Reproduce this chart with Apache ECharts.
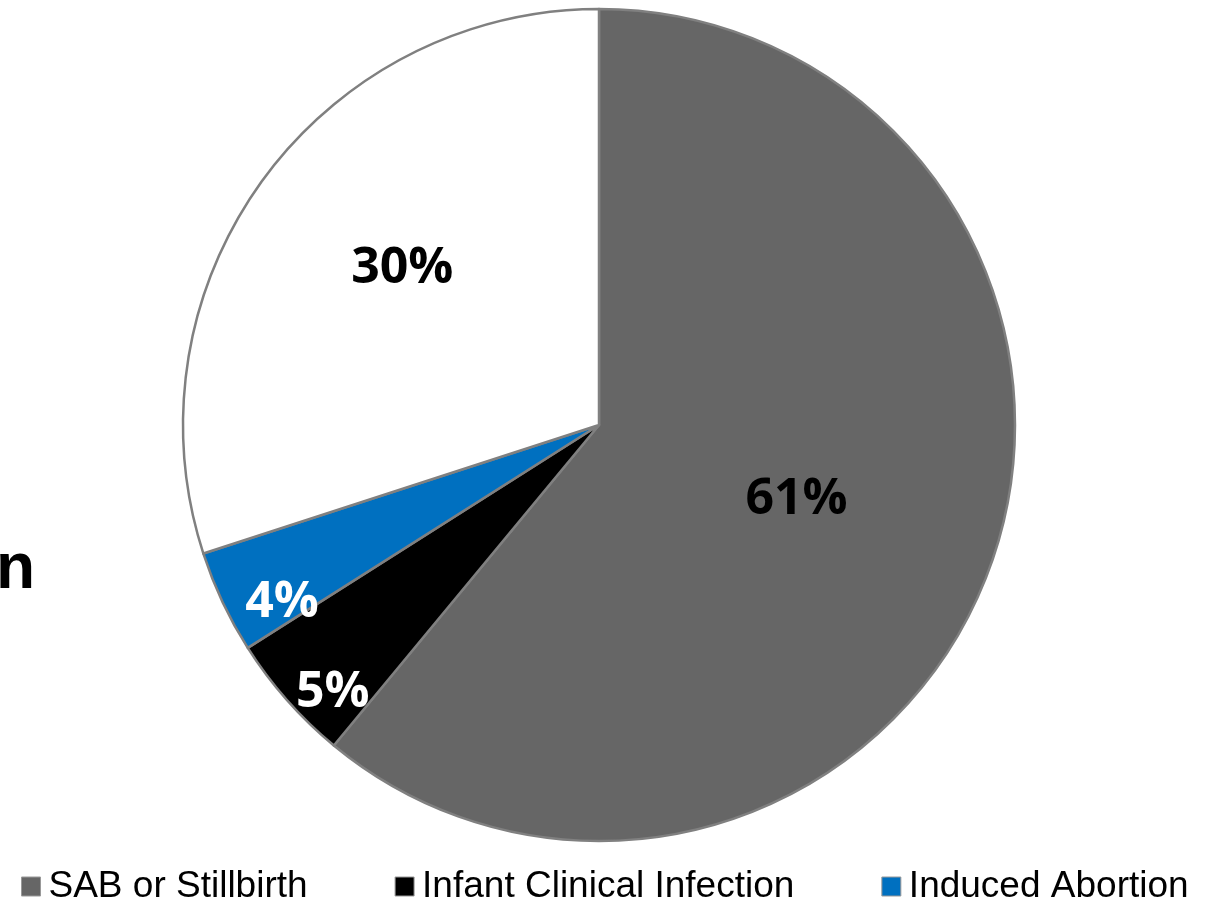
<!DOCTYPE html>
<html>
<head>
<meta charset="utf-8">
<script src="https://cdn.jsdelivr.net/npm/echarts@6/dist/echarts.min.js"></script>
<style>
  html, body { margin: 0; padding: 0; background: #fff; }
  #chart { width: 1208px; height: 898px; }
</style>
</head>
<body>
<div id="chart"></div>
<script>
// slice names and shares (%), clockwise from 12 o'clock
const names = ['SAB or Stillbirth', 'Infant Clinical Infection', 'Induced Abortion', 'Other']
const values = [61, 5, 4, 30]
// only these appear in the legend
const legendNames = ['SAB or Stillbirth', 'Infant Clinical Infection', 'Induced Abortion']

// look
const colors = ['#666666', '#000000', '#0070c0', '#ffffff']
const labelColors = ['#000000', '#ffffff', '#ffffff', '#000000']
// nudge (px) of each label away from its default inside spot
const labelNudge = [[-1, 3], [-108, 128], [-126, 88], [-26, -32]]
const cx = 599, cy = 425

const chart = echarts.init(document.getElementById('chart'))

chart.setOption({
  animation: false,
  graphic: [
    {
      // cut off heading text at the left edge
      type: 'text',
      left: -4,
      top: 538,
      style: { text: 'n', font: 'bold 64px "Liberation Sans", Arial', fill: '#000' }
    }
  ],
  legend: {
    data: legendNames,
    left: 16,
    top: 863,
    itemWidth: 19,
    itemHeight: 19,
    itemGap: 87,
    icon: 'rect',
    itemStyle: { borderColor: '#999', borderWidth: 1 },
    textStyle: { fontFamily: '"Liberation Sans", Arial', fontSize: 37, color: '#000', padding: [0, 0, 0, 3] }
  },
  series: [
    {
      type: 'pie',
      center: [cx, cy],
      radius: 416,
      startAngle: 90,
      clockwise: true,
      data: names.map((n, i) => ({
        name: n,
        value: values[i],
        itemStyle: { color: colors[i] },
        label: { color: labelColors[i] }
      })),
      itemStyle: { borderColor: '#808080', borderWidth: 2.5 },
      label: {
        show: true,
        position: 'inside',
        formatter: p => p.value + '%',
        fontFamily: '"Open Sans", "Noto Sans", sans-serif',
        fontWeight: 'bold',
        fontSize: 50
      },
      labelLine: { show: false },
      emphasis: { disabled: true },
      labelLayout: function (p) {
        const d = labelNudge[p.dataIndex]
        return { dx: d[0], dy: d[1] }
      }
    }
  ]
})
</script>
</body>
</html>
